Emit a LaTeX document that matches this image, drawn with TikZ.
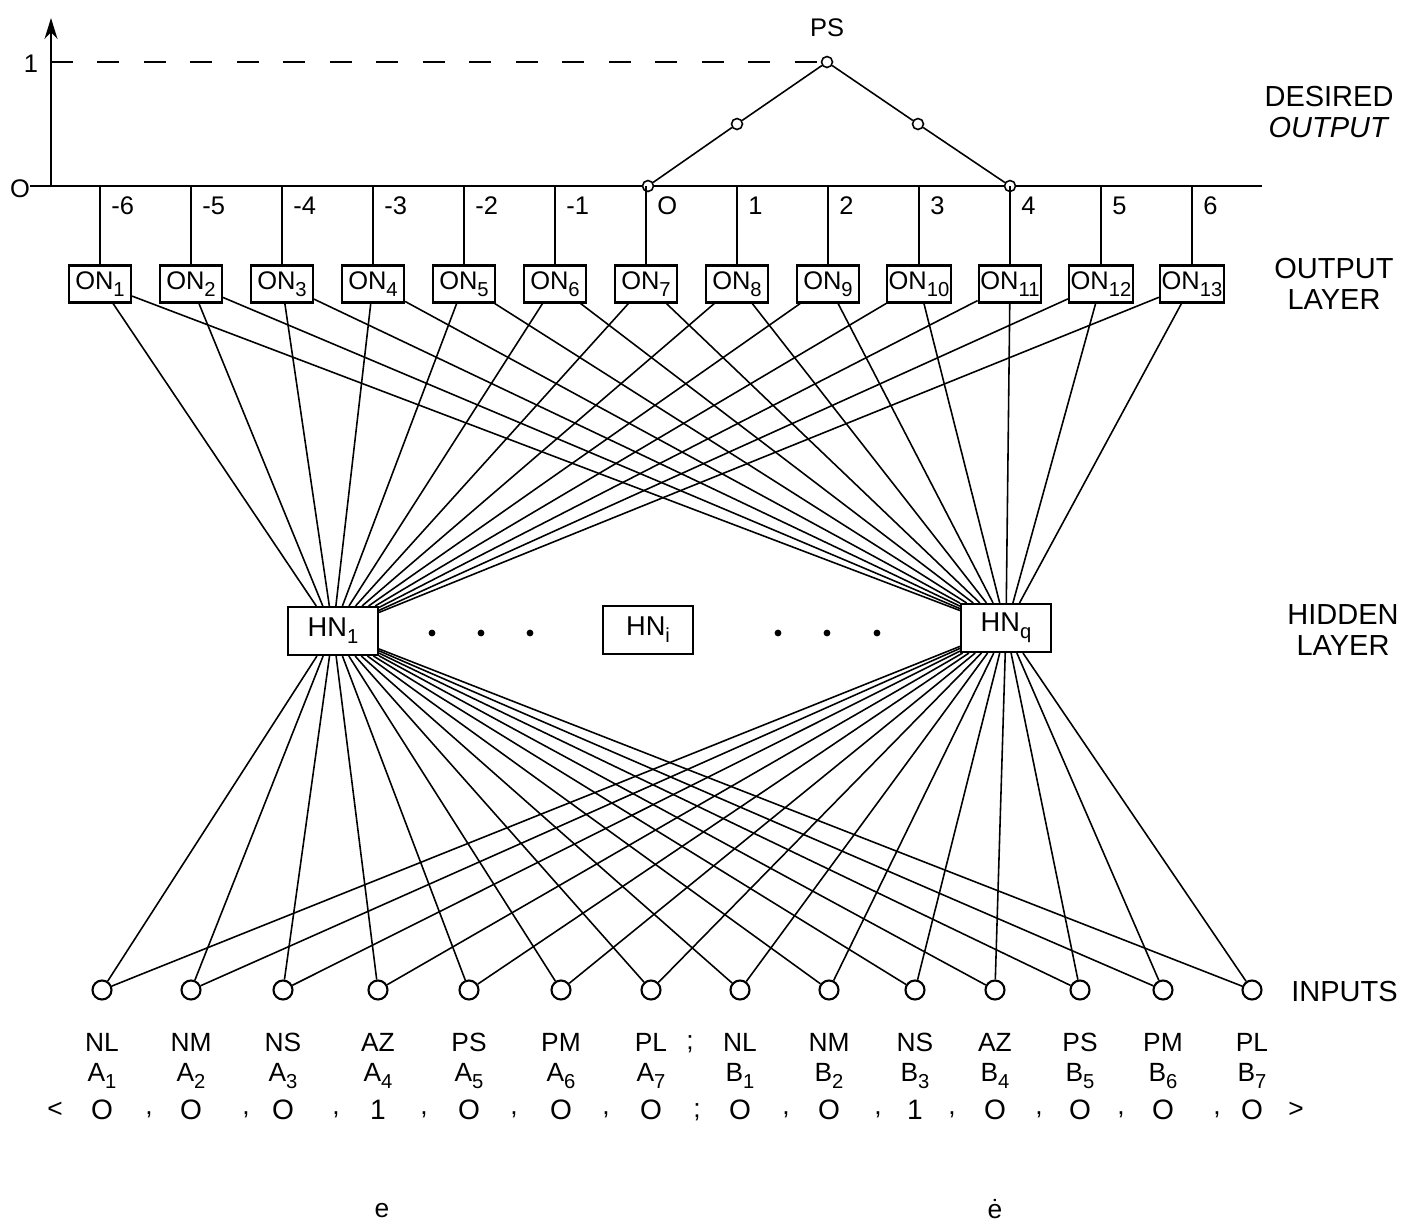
\documentclass[tikz,border=0pt]{standalone}
\usepackage{fontspec}
\setmainfont{Liberation Sans}
\usetikzlibrary{arrows.meta}
\newcommand\lowidx[1]{\raisebox{-0.5ex}{\fontsize{11.5}{12}\selectfont #1}}

\begin{document}
\begin{tikzpicture}[x=0.02cm, y=-0.02cm,
  every node/.style={font=\fontsize{14.5}{16}\selectfont, inner sep=0pt},
  wire/.style={line width=0.9pt},
  onbox/.style={draw, line width=1.2pt, fill=white, minimum width=1.24cm, minimum height=0.74cm, inner sep=1pt, font=\fontsize{14.5}{16}\selectfont},
  hnbox/.style={draw, line width=1.2pt, fill=white, minimum width=1.8cm, minimum height=0.96cm, font=\fontsize{15.5}{17}\selectfont},
  innode/.style={circle, draw, line width=1.2pt, fill=white, minimum size=0.38cm},
  ptnode/.style={circle, draw, line width=0.9pt, fill=white, minimum size=0.22cm},
  rowtext/.style={font=\fontsize{15}{16}\selectfont},
  sidelab/.style={align=center, font=\fontsize{16.5}{18}\selectfont}]
\useasboundingbox (0,0) rectangle (1414,1228);

% desired output
\coordinate (xleft) at (30,186);
\coordinate (xend) at (1262,186);
\coordinate (orig) at (51,186);
\coordinate (ytop) at (51,18);
\coordinate (one) at (51,62);
\draw[wire] (xleft) -- (xend);
\draw[wire, -{Stealth[length=0.42cm, width=0.26cm]}] (orig) -- (ytop);
\node (zero) at (20,189) {O};
\node (unit) at (31,64) {1};
\node[ptnode] (d0) at (648,186) {};
\node[ptnode] (d1) at (737,124) {};
\node[ptnode] (d2) at (827,62) {};
\node[ptnode] (d3) at (918,124) {};
\node[ptnode] (d4) at (1010,186) {};
\draw[wire, dash pattern=on 0.44cm off 0.49cm] (one) -- (d2);
\draw[wire] (d0) -- (d1) -- (d2) -- (d3) -- (d4);
\node (ps) at (827,28) {PS};
\node[sidelab] (desired) at (1329,112) {DESIRED\\\textit{OUTPUT}};

% output layer
\foreach \i [evaluate=\i as \x using {100+91*(\i-1)}] in {1,...,13} {
  \coordinate (t\i) at (\x,186);
  \node[onbox] (on\i) at (\x,284) {ON\lowidx{\i}};
  \draw[wire] (t\i) -- (on\i);
}
\foreach \i/\x/\val in {1/100/-6, 2/191/-5, 3/282/-4, 4/373/-3, 5/464/-2, 6/555/-1, 7/646/O,
                        8/737/1, 9/828/2, 10/919/3, 11/1010/4, 12/1101/5, 13/1192/6}
  \node[anchor=west] (v\i) at (\x+11,206) {\val};
\node[sidelab] (outlayer) at (1334,284) {OUTPUT\\LAYER};

% hidden layer
\node[hnbox] (hn1) at (333,631) {HN\lowidx{1}};
\node[hnbox] (hni) at (648,630) {HN\lowidx{i}};
\node[hnbox] (hnq) at (1006,628) {HN\lowidx{q}};
\foreach \x in {432,481,530,778,827,877}
  \fill (\x,633) circle (3.4);
\node[sidelab] (hidlayer) at (1343,630) {HIDDEN\\LAYER};

\foreach \i in {1,...,13} {
  \draw[wire] (on\i) -- (hn1);
  \draw[wire] (on\i) -- (hnq);
}

% inputs
\foreach \x/\nm/\ltr/\idx/\bit [count=\k] in {102/NL/A/1/O, 191/NM/A/2/O, 283/NS/A/3/O, 378/AZ/A/4/1,
    469/PS/A/5/O, 561/PM/A/6/O, 651/PL/A/7/O, 740/NL/B/1/O, 829/NM/B/2/O, 915/NS/B/3/1,
    995/AZ/B/4/O, 1080/PS/B/5/O, 1163/PM/B/6/O, 1252/PL/B/7/O} {
  \node[innode] (in\k) at (\x,990) {};
  \draw[wire] (in\k) -- (hn1);
  \draw[wire] (in\k) -- (hnq);
  \node[rowtext] (nm\k) at (\x,1042) {\nm};
  \node[rowtext] (ix\k) at (\x,1076) {\ltr\lowidx{\idx}};
  \node[rowtext, font=\fontsize{16}{17}\selectfont] (bit\k) at (\x,1110) {\bit};
}
\node[sidelab, anchor=west] (inputs) at (1291,992) {INPUTS};
\node[rowtext] (semi) at (690,1044) {;};
\foreach \x [count=\k] in {149,246,336,424,514,606,786,878,952,1039,1121,1217}
  \node[rowtext] (c\k) at (\x,1115) {,};
\node[rowtext] (semib) at (697,1112) {;};
\node[rowtext] (lt) at (55,1110) {<};
\node[rowtext] (gt) at (1296,1110) {>};

\node[rowtext] (e) at (382,1211) {e};
\node[rowtext] (edot) at (995,1209) {\.e};
\end{tikzpicture}
\end{document}
